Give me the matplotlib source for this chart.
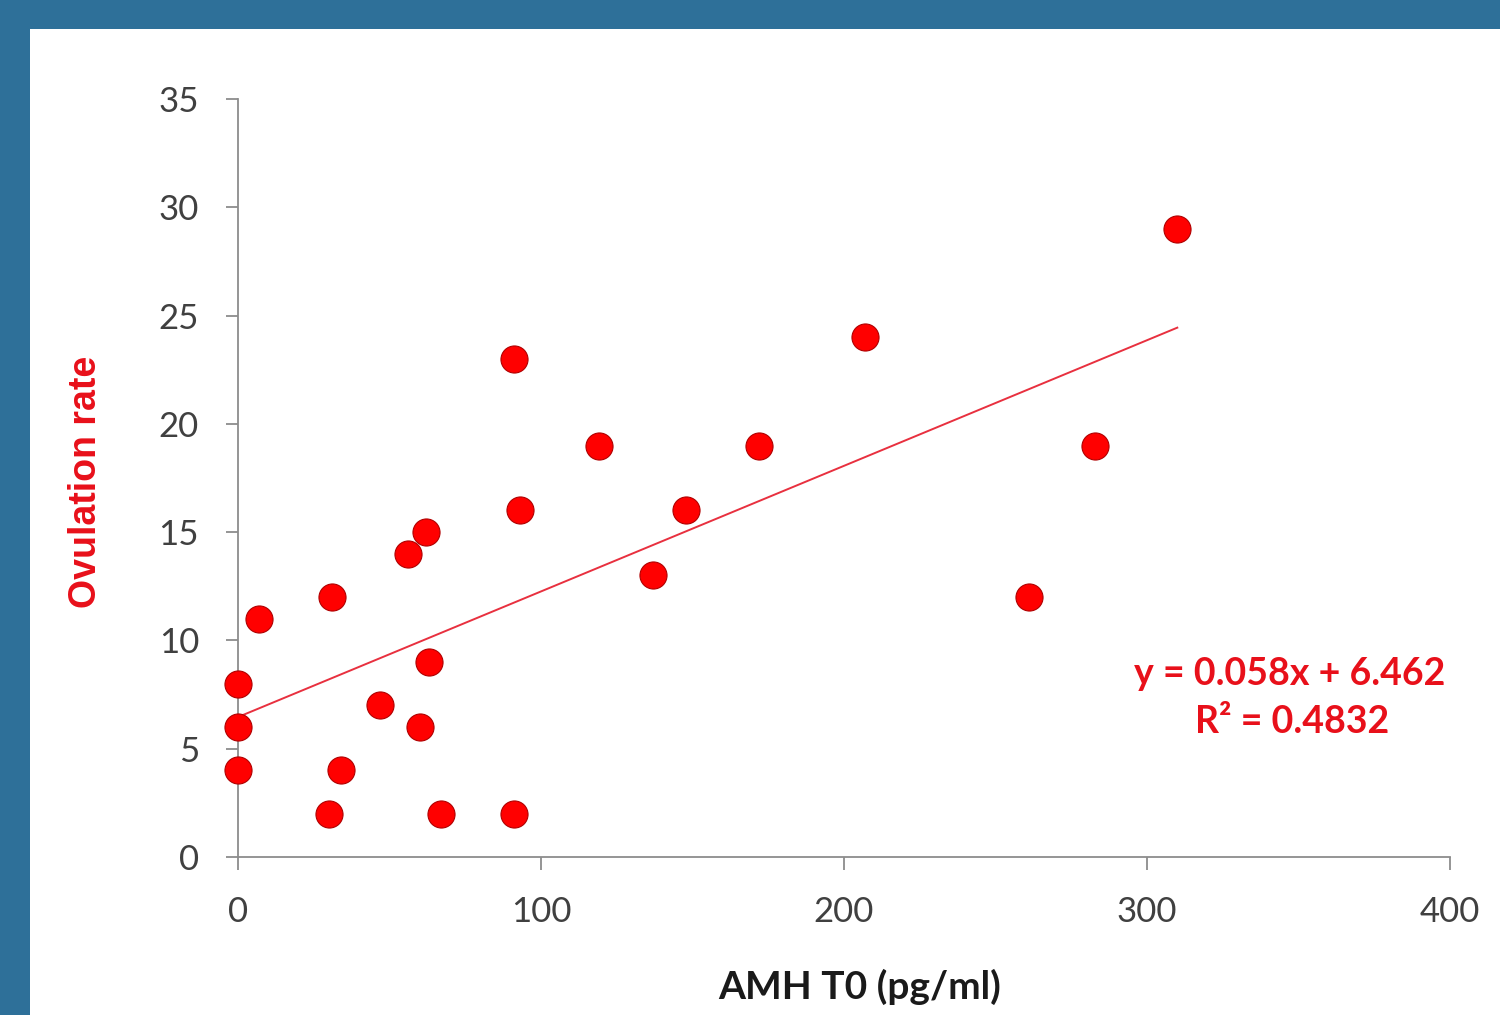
import matplotlib
matplotlib.use("Agg")
import matplotlib.pyplot as plt
from matplotlib.patches import Rectangle
import numpy as np

# Data
amh_t0 = [0, 0, 0, 7, 30, 31, 34, 47, 56, 60, 62, 63, 67, 91, 91, 93,
          119, 137, 148, 172, 207, 261, 283, 310]
ovulation_rate = [8, 6, 4, 11, 2, 12, 4, 7, 14, 6, 15, 9, 2, 23, 2, 16,
                  19, 13, 16, 19, 24, 12, 19, 29]
slope, intercept, r2 = 0.058, 6.462, 0.4832
x_ticks = [0, 100, 200, 300, 400]
y_ticks = [0, 5, 10, 15, 20, 25, 30, 35]

BLUE = "#2E7099"
RED = "#FF0000"
TEXT_RED = "#E8101A"
W, H = 1500, 1015

fig = plt.figure(figsize=(15, 10.15), dpi=100, facecolor=BLUE)
bg = Rectangle((30 / W, 0), 1 - 30 / W, 1 - 29 / H,
               transform=fig.transFigure, facecolor="white",
               edgecolor="none", zorder=-10)
fig.add_artist(bg)

ax = fig.add_axes([238 / W, 1 - 857 / H, (1450 - 238) / W, (857 - 99) / H])
ax.set_facecolor("none")
ax.set_zorder(1)

ax.scatter(amh_t0, ovulation_rate, s=380, color=RED, edgecolors="#B00000",
           linewidths=0.8, zorder=3, clip_on=False)

xs = np.array([0, max(amh_t0)])
ax.plot(xs, slope * xs + intercept, color="#E8303F", lw=1.4, zorder=2)

ax.set_xlim(0, 400)
ax.set_ylim(0, 35)
ax.set_xticks(x_ticks)
ax.set_yticks(y_ticks)
for s in ["top", "right"]:
    ax.spines[s].set_visible(False)
for s in ["left", "bottom"]:
    ax.spines[s].set_color("#8C8C8C")
    ax.spines[s].set_linewidth(1.3)
ax.tick_params(axis="both", colors="#8C8C8C", length=9, width=1.3, pad=19,
               labelcolor="#404040", labelsize=25)
for lab in ax.get_xticklabels() + ax.get_yticklabels():
    lab.set_fontfamily("Lato")

fig.text(860 / W, 1 - 987 / H, "AMH T0 (pg/ml)", ha="center", va="center",
         fontfamily="Lato", fontweight="bold", fontsize=28, color="#1A1A1A")
fig.text(86 / W, 1 - 482 / H, "Ovulation rate", ha="center", va="center",
         rotation=90, fontfamily="Liberation Sans", fontweight="bold",
         fontsize=27, color=TEXT_RED)

fig.text(1290 / W, 1 - 674 / H, f"y = {slope}x + {intercept}",
         ha="center", va="center",
         fontfamily="Lato", fontweight="bold", fontsize=27, color=TEXT_RED)
fig.text(1292 / W, 1 - 722 / H, f"R² = {r2}",
         ha="center", va="center",
         fontfamily="Lato", fontweight="bold", fontsize=27, color=TEXT_RED)

fig.savefig("out.png", dpi=100, facecolor=BLUE)
